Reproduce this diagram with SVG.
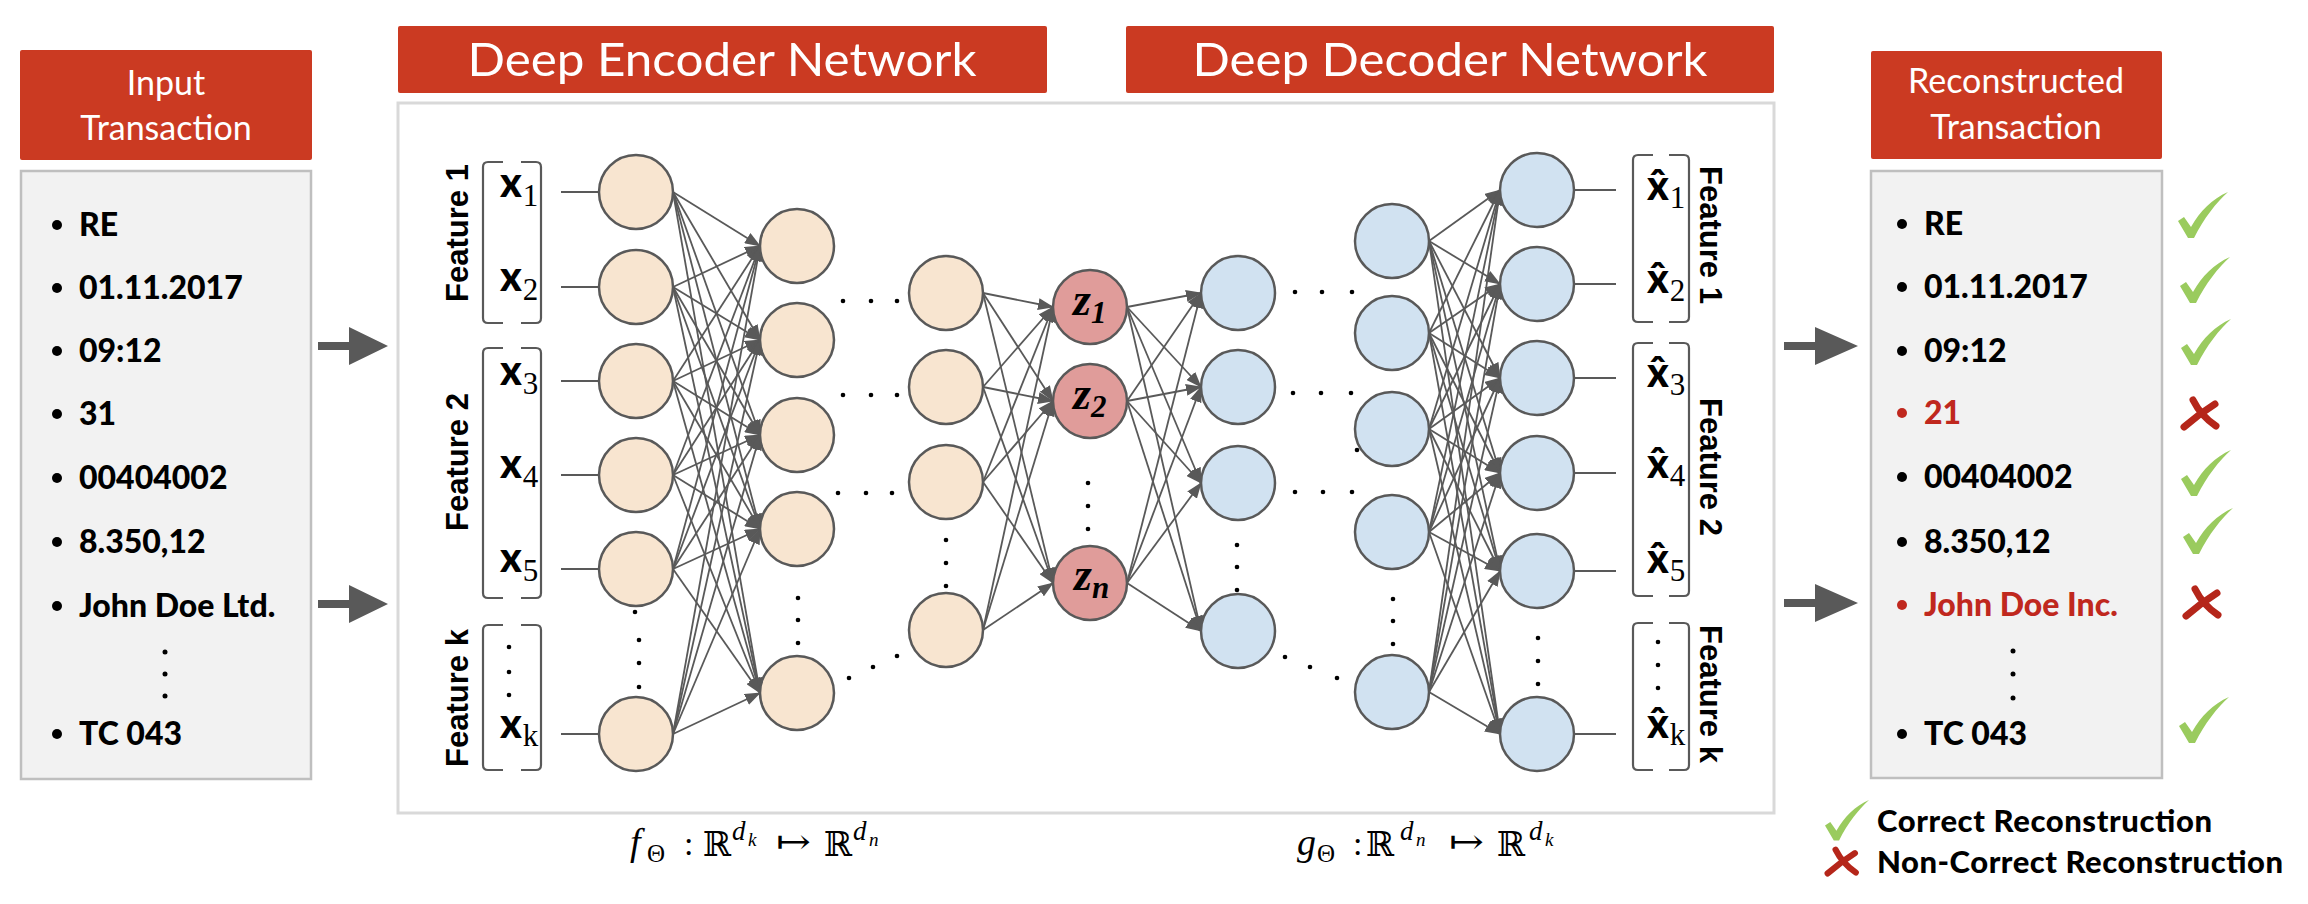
<svg xmlns="http://www.w3.org/2000/svg" width="2308" height="904" viewBox="0 0 2308 904">
<style>
.red{fill:#cb3a22}
.ttl{font-family:Lato,"Liberation Sans",sans-serif;fill:#fff;text-anchor:middle}
.panel{fill:#f2f2f2;stroke:#bfbfbf;stroke-width:2.5}
.item{font-family:Lato,"Liberation Sans",sans-serif;font-weight:900;font-size:32px;fill:#000}
.bad{fill:#c0281e}
.enc{fill:#f8e5d0;stroke:#595959;stroke-width:2.5}
.dec{fill:#d1e2f1;stroke:#595959;stroke-width:2.5}
.lat{fill:#e09c9a;stroke:#595959;stroke-width:2.5}
.c{stroke:#595959;stroke-width:1.8;fill:none;marker-end:url(#ah)}
.l{stroke:#595959;stroke-width:2;fill:none}
.br{stroke:#595959;stroke-width:2.2;fill:none}
.feat{font-family:"Liberation Sans",Arial,sans-serif;font-weight:bold;font-size:31px;text-anchor:middle;fill:#000}
.xv{font-family:Lato,"DejaVu Sans",sans-serif;font-weight:900;font-size:41px;fill:#000}
.sb{font-family:"Liberation Serif",serif;font-weight:normal;font-size:31px;fill:#000}
.zl{font-family:"Liberation Serif",serif;font-style:italic;font-weight:bold;fill:#000}
.m{font-family:"Liberation Serif",serif;fill:#000}
.bb{font-family:"DejaVu Serif","DejaVu Sans",serif;fill:#000}
.ok{fill:#9acb5e}
.no{stroke:#b5261a;stroke-width:7;fill:none;stroke-linecap:round}
.dot{fill:#000}
</style>
<defs>
<marker id="ah" viewBox="0 0 16 12" refX="15" refY="6" markerWidth="16" markerHeight="12" markerUnits="userSpaceOnUse" orient="auto"><path d="M0,0 L16,6 L0,12 Z" fill="#595959"/></marker>
<path id="chk" d="M0,29 L6,25 L13,35 C22,19 34,7 50,0 C38,11 26,26 16,46 L10,46 Z"/>
<g id="crs"><path d="M12,3 Q20,19 35,29"/><path d="M34,7 Q18,17 3,30"/></g>
</defs>
<rect width="2308" height="904" fill="#fff"/>

<!-- main network box -->
<rect id="network-box" x="398" y="103" width="1376" height="710" fill="#fff" stroke="#d9d9d9" stroke-width="3"/>

<!-- titles -->
<g id="encoder-title"><rect class="red" x="398" y="26" width="649" height="67" rx="2"/><text class="ttl" x="722" y="76" font-size="47" textLength="509" lengthAdjust="spacingAndGlyphs">Deep Encoder Network</text></g>
<g id="decoder-title"><rect class="red" x="1126" y="26" width="648" height="67" rx="2"/><text class="ttl" x="1450" y="76" font-size="47" textLength="515" lengthAdjust="spacingAndGlyphs">Deep Decoder Network</text></g>

<!-- input transaction -->
<g id="input-transaction">
<rect class="red" x="20" y="50" width="292" height="110" rx="2"/>
<text class="ttl" x="166" y="95" font-size="34">Input</text>
<text class="ttl" x="166" y="140" font-size="34">Transaction</text>
<rect class="panel" x="21" y="171" width="290" height="608"/>
<g class="dot"><circle cx="57" cy="225" r="5"/><circle cx="57" cy="288" r="5"/><circle cx="57" cy="351" r="5"/><circle cx="57" cy="414" r="5"/><circle cx="57" cy="478" r="5"/><circle cx="57" cy="542" r="5"/><circle cx="57" cy="606" r="5"/><circle cx="57" cy="734" r="5"/>
<circle cx="165" cy="652" r="2.5"/><circle cx="165" cy="674" r="2.5"/><circle cx="165" cy="696" r="2.5"/></g>
<text class="item" x="79" y="236">RE</text>
<text class="item" x="79" y="299">01.11.2017</text>
<text class="item" x="79" y="362">09:12</text>
<text class="item" x="79" y="425">31</text>
<text class="item" x="79" y="489">00404002</text>
<text class="item" x="79" y="553">8.350,12</text>
<text class="item" x="79" y="617">John Doe Ltd.</text>
<text class="item" x="79" y="745">TC 043</text>
</g>

<!-- reconstructed transaction -->
<g id="reconstructed-transaction">
<rect class="red" x="1871" y="51" width="291" height="108" rx="2"/>
<text class="ttl" x="2016" y="93" font-size="34">Reconstructed</text>
<text class="ttl" x="2016" y="139" font-size="34">Transaction</text>
<rect class="panel" x="1871" y="171" width="291" height="607"/>
<g class="dot"><circle cx="1902" cy="224" r="5"/><circle cx="1902" cy="287" r="5"/><circle cx="1902" cy="351" r="5"/><circle class="bad" cx="1902" cy="413" r="5"/><circle cx="1902" cy="477" r="5"/><circle cx="1902" cy="542" r="5"/><circle class="bad" cx="1902" cy="605" r="5"/><circle cx="1902" cy="734" r="5"/>
<circle cx="2013" cy="651" r="2.5"/><circle cx="2013" cy="674" r="2.5"/><circle cx="2013" cy="698" r="2.5"/></g>
<text class="item" x="1924" y="235">RE</text>
<text class="item" x="1924" y="298">01.11.2017</text>
<text class="item" x="1924" y="362">09:12</text>
<text class="item bad" x="1924" y="424">21</text>
<text class="item" x="1924" y="488">00404002</text>
<text class="item" x="1924" y="553">8.350,12</text>
<text class="item bad" x="1924" y="616">John Doe Inc.</text>
<text class="item" x="1924" y="745">TC 043</text>
<g class="ok">
<use href="#chk" x="2178" y="192"/><use href="#chk" x="2180" y="257"/><use href="#chk" x="2181" y="319"/><use href="#chk" x="2181" y="450"/><use href="#chk" x="2183" y="508"/><use href="#chk" x="2179" y="697"/>
</g>
<g class="no"><use href="#crs" x="2181" y="397"/><use href="#crs" x="2183" y="586"/></g>
</g>

<!-- legend -->
<g id="legend">
<use href="#chk" class="ok" transform="translate(1825,800) scale(0.88)"/>
<use href="#crs" class="no" transform="translate(1825,847) scale(0.88)"/>
<text class="item" x="1877" y="832" style="font-size:31px" textLength="335">Correct Reconstruction</text>
<text class="item" x="1877" y="873" style="font-size:31px" textLength="406">Non-Correct Reconstruction</text>
</g>

<!-- connectors -->
<g id="connectors">
<g class="c">
<path d="M673 192L760 246"/><path d="M673 192L760 340"/><path d="M673 192L760 435"/><path d="M673 192L760 529"/><path d="M673 192L760 693"/>
<path d="M673 287L760 246"/><path d="M673 287L760 340"/><path d="M673 287L760 435"/><path d="M673 287L760 529"/><path d="M673 287L760 693"/>
<path d="M673 381L760 246"/><path d="M673 381L760 340"/><path d="M673 381L760 435"/><path d="M673 381L760 529"/><path d="M673 381L760 693"/>
<path d="M673 475L760 246"/><path d="M673 475L760 340"/><path d="M673 475L760 435"/><path d="M673 475L760 529"/><path d="M673 475L760 693"/>
<path d="M673 569L760 246"/><path d="M673 569L760 340"/><path d="M673 569L760 435"/><path d="M673 569L760 529"/><path d="M673 569L760 693"/>
<path d="M673 734L760 246"/><path d="M673 734L760 340"/><path d="M673 734L760 435"/><path d="M673 734L760 529"/><path d="M673 734L760 693"/>

<path d="M983 293L1053 307"/><path d="M983 293L1053 401"/><path d="M983 293L1053 583"/>
<path d="M983 387L1053 307"/><path d="M983 387L1053 401"/><path d="M983 387L1053 583"/>
<path d="M983 482L1053 307"/><path d="M983 482L1053 401"/><path d="M983 482L1053 583"/>
<path d="M983 630L1053 307"/><path d="M983 630L1053 401"/><path d="M983 630L1053 583"/>

<path d="M1127 307L1201 293"/><path d="M1127 307L1201 387"/><path d="M1127 307L1201 483"/><path d="M1127 307L1201 631"/>
<path d="M1127 401L1201 293"/><path d="M1127 401L1201 387"/><path d="M1127 401L1201 483"/><path d="M1127 401L1201 631"/>
<path d="M1127 583L1201 293"/><path d="M1127 583L1201 387"/><path d="M1127 583L1201 483"/><path d="M1127 583L1201 631"/>

<path d="M1429 241L1500 190"/><path d="M1429 241L1500 284"/><path d="M1429 241L1500 378"/><path d="M1429 241L1500 473"/><path d="M1429 241L1500 571"/><path d="M1429 241L1500 734"/>
<path d="M1429 333L1500 190"/><path d="M1429 333L1500 284"/><path d="M1429 333L1500 378"/><path d="M1429 333L1500 473"/><path d="M1429 333L1500 571"/><path d="M1429 333L1500 734"/>
<path d="M1429 429L1500 190"/><path d="M1429 429L1500 284"/><path d="M1429 429L1500 378"/><path d="M1429 429L1500 473"/><path d="M1429 429L1500 571"/><path d="M1429 429L1500 734"/>
<path d="M1429 532L1500 190"/><path d="M1429 532L1500 284"/><path d="M1429 532L1500 378"/><path d="M1429 532L1500 473"/><path d="M1429 532L1500 571"/><path d="M1429 532L1500 734"/>
<path d="M1429 692L1500 190"/><path d="M1429 692L1500 284"/><path d="M1429 692L1500 378"/><path d="M1429 692L1500 473"/><path d="M1429 692L1500 571"/><path d="M1429 692L1500 734"/>
</g>
<g class="l">
<path d="M561 192H599M561 287H599M561 381H599M561 475H599M561 569H599M561 734H599"/>
<path d="M1574 190H1616M1574 284H1616M1574 378H1616M1574 473H1616M1574 571H1616M1574 734H1616"/>
</g>
<g fill="#595959">
<path d="M318 342H349V327L388 346L349 365V350H318Z"/>
<path d="M318 600H349V585L388 604L349 623V608H318Z"/>
<path d="M1784 342H1815V327L1858 346L1815 365V350H1784Z"/>
<path d="M1784 599H1815V584L1858 603L1815 622V607H1784Z"/>
</g>
</g>

<!-- encoder input labels -->
<g id="encoder-features">
<path class="br" d="M503 162H488Q483 162 483 167V318Q483 323 488 323H503M521 162H536Q541 162 541 167V318Q541 323 536 323H521"/>
<path class="br" d="M503 348H488Q483 348 483 353V593Q483 598 488 598H503M521 348H536Q541 348 541 353V593Q541 598 536 598H521"/>
<path class="br" d="M503 625H488Q483 625 483 630V765Q483 770 488 770H503M521 625H536Q541 625 541 630V765Q541 770 536 770H521"/>
<text class="feat" transform="translate(468,233) rotate(-90)">Feature 1</text>
<text class="feat" transform="translate(468,462) rotate(-90)">Feature 2</text>
<text class="feat" transform="translate(468,698) rotate(-90)">Feature k</text>
<text class="xv" x="500" y="197">x<tspan class="sb" dx="1" dy="9">1</tspan></text>
<text class="xv" x="500" y="291">x<tspan class="sb" dx="1" dy="9">2</tspan></text>
<text class="xv" x="500" y="385">x<tspan class="sb" dx="1" dy="9">3</tspan></text>
<text class="xv" x="500" y="478">x<tspan class="sb" dx="1" dy="9">4</tspan></text>
<text class="xv" x="500" y="572">x<tspan class="sb" dx="1" dy="9">5</tspan></text>
<text class="xv" x="500" y="738">x<tspan class="sb" dx="1" dy="8">k</tspan></text>
<g class="dot"><circle cx="509" cy="647" r="2.3"/><circle cx="509" cy="672" r="2.3"/><circle cx="509" cy="695" r="2.3"/></g>
</g>

<!-- decoder output labels -->
<g id="decoder-features">
<path class="br" d="M1653 155H1638Q1633 155 1633 160V317Q1633 322 1638 322H1653M1669 155H1684Q1689 155 1689 160V317Q1689 322 1684 322H1669"/>
<path class="br" d="M1653 343H1638Q1633 343 1633 348V591Q1633 596 1638 596H1653M1669 343H1684Q1689 343 1689 348V591Q1689 596 1684 596H1669"/>
<path class="br" d="M1653 623H1638Q1633 623 1633 628V765Q1633 770 1638 770H1653M1669 623H1684Q1689 623 1689 628V765Q1689 770 1684 770H1669"/>
<text class="feat" transform="translate(1700,235) rotate(90)">Feature 1</text>
<text class="feat" transform="translate(1700,467) rotate(90)">Feature 2</text>
<text class="feat" transform="translate(1700,694) rotate(90)">Feature k</text>
<text class="xv" x="1647" y="200">x̂<tspan class="sb" dx="1" dy="8">1</tspan></text>
<text class="xv" x="1647" y="293">x̂<tspan class="sb" dx="1" dy="8">2</tspan></text>
<text class="xv" x="1647" y="387">x̂<tspan class="sb" dx="1" dy="8">3</tspan></text>
<text class="xv" x="1647" y="478">x̂<tspan class="sb" dx="1" dy="8">4</tspan></text>
<text class="xv" x="1647" y="573">x̂<tspan class="sb" dx="1" dy="8">5</tspan></text>
<text class="xv" x="1647" y="738">x̂<tspan class="sb" dx="1" dy="7">k</tspan></text>
<g class="dot"><circle cx="1658" cy="642" r="2.3"/><circle cx="1658" cy="665" r="2.3"/><circle cx="1658" cy="688" r="2.3"/></g>
</g>

<!-- encoder nodes -->
<g id="enc-l1">
<g id="e1-1"><circle class="enc" cx="636" cy="192" r="37"/></g>
<g id="e1-2"><circle class="enc" cx="636" cy="287" r="37"/></g>
<g id="e1-3"><circle class="enc" cx="636" cy="381" r="37"/></g>
<g id="e1-4"><circle class="enc" cx="636" cy="475" r="37"/></g>
<g id="e1-5"><circle class="enc" cx="636" cy="569" r="37"/></g>
<g id="e1-k"><circle class="enc" cx="636" cy="734" r="37"/></g>
</g>
<g id="enc-l2">
<g id="e2-1"><circle class="enc" cx="797" cy="246" r="37"/></g>
<g id="e2-2"><circle class="enc" cx="797" cy="340" r="37"/></g>
<g id="e2-3"><circle class="enc" cx="797" cy="435" r="37"/></g>
<g id="e2-4"><circle class="enc" cx="797" cy="529" r="37"/></g>
<g id="e2-n"><circle class="enc" cx="797" cy="693" r="37"/></g>
</g>
<g id="enc-l3">
<g id="e3-1"><circle class="enc" cx="946" cy="293" r="37"/></g>
<g id="e3-2"><circle class="enc" cx="946" cy="387" r="37"/></g>
<g id="e3-3"><circle class="enc" cx="946" cy="482" r="37"/></g>
<g id="e3-n"><circle class="enc" cx="946" cy="630" r="37"/></g>
</g>
<g id="latent">
<g id="z1"><circle class="lat" cx="1090" cy="307" r="37"/><text class="zl" x="1073" y="315" font-size="46">z<tspan font-size="31" dy="8">1</tspan></text></g>
<g id="z2"><circle class="lat" cx="1090" cy="401" r="37"/><text class="zl" x="1073" y="409" font-size="46">z<tspan font-size="31" dy="8">2</tspan></text></g>
<g id="zn"><circle class="lat" cx="1090" cy="583" r="37"/><text class="zl" x="1074" y="590" font-size="46">z<tspan font-size="31" dy="8">n</tspan></text></g>
</g>
<g id="dec-l1">
<g id="d1-1"><circle class="dec" cx="1238" cy="293" r="37"/></g>
<g id="d1-2"><circle class="dec" cx="1238" cy="387" r="37"/></g>
<g id="d1-3"><circle class="dec" cx="1238" cy="483" r="37"/></g>
<g id="d1-n"><circle class="dec" cx="1238" cy="631" r="37"/></g>
</g>
<g id="dec-l2">
<g id="d2-1"><circle class="dec" cx="1392" cy="241" r="37"/></g>
<g id="d2-2"><circle class="dec" cx="1392" cy="333" r="37"/></g>
<g id="d2-3"><circle class="dec" cx="1392" cy="429" r="37"/></g>
<g id="d2-4"><circle class="dec" cx="1392" cy="532" r="37"/></g>
<g id="d2-n"><circle class="dec" cx="1392" cy="692" r="37"/></g>
</g>
<g id="dec-l3">
<g id="d3-1"><circle class="dec" cx="1537" cy="190" r="37"/></g>
<g id="d3-2"><circle class="dec" cx="1537" cy="284" r="37"/></g>
<g id="d3-3"><circle class="dec" cx="1537" cy="378" r="37"/></g>
<g id="d3-4"><circle class="dec" cx="1537" cy="473" r="37"/></g>
<g id="d3-5"><circle class="dec" cx="1537" cy="571" r="37"/></g>
<g id="d3-k"><circle class="dec" cx="1537" cy="734" r="37"/></g>
</g>

<!-- ellipsis dots -->
<g id="ellipses" class="dot">
<circle cx="635" cy="612" r="2.3"/><circle cx="639" cy="640" r="2.3"/><circle cx="639" cy="663" r="2.3"/><circle cx="639" cy="687" r="2.3"/>
<circle cx="798" cy="598" r="2.3"/><circle cx="798" cy="620" r="2.3"/><circle cx="798" cy="643" r="2.3"/>
<circle cx="843" cy="301" r="2.3"/><circle cx="871" cy="301" r="2.3"/><circle cx="897" cy="301" r="2.3"/>
<circle cx="843" cy="395" r="2.3"/><circle cx="871" cy="395" r="2.3"/><circle cx="897" cy="395" r="2.3"/>
<circle cx="838" cy="493" r="2.3"/><circle cx="866" cy="493" r="2.3"/><circle cx="892" cy="493" r="2.3"/>
<circle cx="849" cy="678" r="2.3"/><circle cx="873" cy="667" r="2.3"/><circle cx="897" cy="656" r="2.3"/>
<circle cx="946" cy="540" r="2.3"/><circle cx="946" cy="563" r="2.3"/><circle cx="946" cy="586" r="2.3"/>
<circle cx="1088" cy="483" r="2.3"/><circle cx="1088" cy="506" r="2.3"/><circle cx="1088" cy="529" r="2.3"/>
<circle cx="1237" cy="545" r="2.3"/><circle cx="1237" cy="567" r="2.3"/><circle cx="1237" cy="590" r="2.3"/>
<circle cx="1295" cy="292" r="2.3"/><circle cx="1322" cy="292" r="2.3"/><circle cx="1352" cy="292" r="2.3"/>
<circle cx="1293" cy="393" r="2.3"/><circle cx="1321" cy="393" r="2.3"/><circle cx="1351" cy="393" r="2.3"/>
<circle cx="1357" cy="450" r="2.3"/>
<circle cx="1295" cy="492" r="2.3"/><circle cx="1323" cy="492" r="2.3"/><circle cx="1352" cy="492" r="2.3"/>
<circle cx="1285" cy="657" r="2.3"/><circle cx="1310" cy="667" r="2.3"/><circle cx="1337" cy="678" r="2.3"/>
<circle cx="1393" cy="599" r="2.3"/><circle cx="1393" cy="621" r="2.3"/><circle cx="1393" cy="644" r="2.3"/>
<circle cx="1538" cy="638" r="2.3"/><circle cx="1538" cy="661" r="2.3"/><circle cx="1538" cy="684" r="2.3"/>
</g>

<!-- formulas -->
<g id="formula-f">
<text class="m" x="630" y="855" font-size="38" font-style="italic">f</text>
<text class="m" x="647" y="862" font-size="25">Θ</text>
<text class="m" x="684" y="855" font-size="34">:</text>
<text class="bb" x="703" y="856" font-size="34">ℝ</text>
<text class="m" x="732" y="840" font-size="27" font-style="italic">d</text>
<text class="m" x="748" y="846" font-size="19" font-style="italic">k</text>
<text class="bb" x="776" y="853" font-size="34" textLength="35" lengthAdjust="spacingAndGlyphs">↦</text>
<text class="bb" x="824" y="856" font-size="34">ℝ</text>
<text class="m" x="853" y="840" font-size="27" font-style="italic">d</text>
<text class="m" x="869" y="846" font-size="19" font-style="italic">n</text>
</g>
<g id="formula-g">
<text class="m" x="1297" y="855" font-size="38" font-style="italic">g</text>
<text class="m" x="1317" y="862" font-size="25">Θ</text>
<text class="m" x="1353" y="855" font-size="34">:</text>
<text class="bb" x="1366" y="856" font-size="34">ℝ</text>
<text class="m" x="1400" y="840" font-size="27" font-style="italic">d</text>
<text class="m" x="1416" y="846" font-size="19" font-style="italic">n</text>
<text class="bb" x="1449" y="853" font-size="34" textLength="35" lengthAdjust="spacingAndGlyphs">↦</text>
<text class="bb" x="1497" y="856" font-size="34">ℝ</text>
<text class="m" x="1529" y="840" font-size="27" font-style="italic">d</text>
<text class="m" x="1545" y="846" font-size="19" font-style="italic">k</text>
</g>
</svg>
